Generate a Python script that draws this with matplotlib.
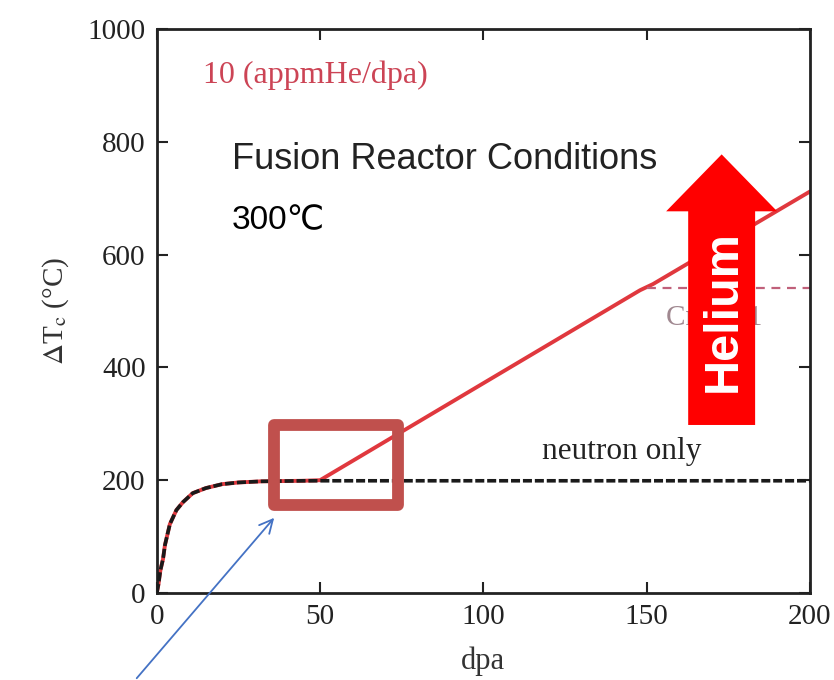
import numpy as np
import matplotlib
matplotlib.use('Agg')
import matplotlib.pyplot as plt
from matplotlib.patches import Rectangle, FancyArrow

#%% Data
# neutron only curve (dpa, delta Tc)
dpa_n = [0, 0.5, 1.1, 1.9, 2.5, 4, 6, 8, 11, 15, 20, 25, 32, 45, 200]
dT_n = [0, 15, 40, 60, 85, 122, 147, 161, 177, 186, 193, 196, 198, 199, 199]

# 10 appmHe/dpa, branch leaving the neutron curve at 50 dpa
dpa_he = [50, 100, 148, 152, 200]
dT_he = [200, 372, 537, 548, 712]

# pink dashed level
dpa_c = [150, 200]
dT_c = [541, 541]

xticks = [0, 50, 100, 150, 200]
yticks = [0, 200, 400, 600, 800, 1000]

serif = 'Liberation Serif'
sans = ['Liberation Sans', 'DejaVu Sans', 'Noto Sans CJK JP']
plt.rcParams['mathtext.fontset'] = 'stix'

#%% Figure
fig = plt.figure(figsize=(8.34, 6.8), dpi=100)
ax = fig.add_axes([0.188, 0.128, 0.783, 0.829])

# red line runs under the neutron curve first
dpa_red = [d for d in dpa_n if d < 50] + dpa_he
dT_red = [t for d, t in zip(dpa_n, dT_n) if d < 50] + dT_he
ax.plot(dpa_red, dT_red, color='#e0383e', lw=2.8, solid_capstyle='round', zorder=2)
ax.plot(dpa_n, dT_n, color='#1a1a1a', lw=2.6, ls=(0, (2.5, 0.8)), zorder=3)
ax.plot(dpa_c, dT_c, color='#c0607a', lw=1.6, ls=(0, (4, 3)), zorder=2)

ax.set_xlim(0, 200)
ax.set_ylim(0, 1000)
ax.set_xticks(xticks)
ax.set_yticks(yticks)
ax.tick_params(direction='in', length=8, width=1.5, top=True, right=True,
               labelsize=21, pad=8, colors='#222222')
for lab in ax.get_xticklabels() + ax.get_yticklabels():
    lab.set_fontfamily(serif)
for sp in ax.spines.values():
    sp.set_linewidth(2)
    sp.set_color('#222222')

ax.set_xlabel('dpa', fontfamily=serif, fontsize=22, color='#333333', labelpad=12)
ax.set_ylabel(r'$\Delta$T$_{\mathrm{c}}$ (°C)', fontfamily=serif, fontsize=21,
              color='#333333', labelpad=12)

# texts
ax.text(14, 905, '10 (appmHe/dpa)', fontfamily=serif, fontsize=23, color='#cc4455')
ax.text(23, 752, 'Fusion Reactor Conditions', fontfamily=sans, fontsize=26,
        color='#222222')
ax.text(23, 645, '300℃', fontfamily=sans, fontsize=24, color='black')
ax.text(118, 237, 'neutron only', fontfamily=serif, fontsize=22.5, color='#222222')
ax.text(156, 475, 'Cr = 0.1', fontfamily=serif, fontsize=21, color='#a08890')

# highlight box on the departure point
ax.add_patch(Rectangle((35.8, 156), 38, 142, fill=False, ec='#c0504d', lw=8.5,
                       joinstyle='round', zorder=4, clip_on=False))

# helium arrow
ax.add_patch(FancyArrow(173, 298, 0, 480, width=20.5, head_width=34,
                        head_length=101, length_includes_head=True,
                        color='#ff0000', lw=0, zorder=5))
ax.text(173.5, 500, 'Helium', rotation=90, ha='center', va='center',
        fontfamily=sans, fontsize=35, fontweight='bold', color='white', zorder=6)

# blue pointer from below the axes
ax.annotate('', xy=(36.5, 137), xytext=(-6.7, -155), xycoords='data',
            textcoords='data',
            arrowprops=dict(arrowstyle='->', color='#4472c4', lw=1.3,
                            mutation_scale=24),
            annotation_clip=False, zorder=6)

plt.savefig('out.png', dpi=100)
